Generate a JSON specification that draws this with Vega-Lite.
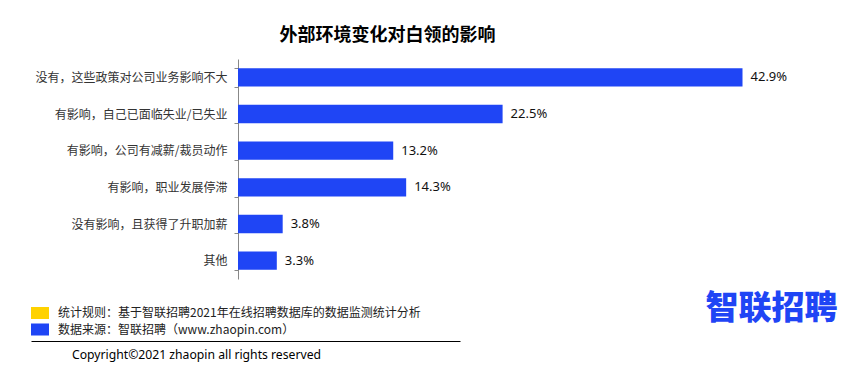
{
  "$schema": "https://vega.github.io/schema/vega-lite/v6.json",
  "width": 588,
  "height": 220,
  "autosize": {"type": "none"},
  "padding": {"left": 238, "top": 59, "right": 28, "bottom": 95},
  "background": "white",
  "config": {"view": {"stroke": null}},
  "title": {
    "text": "外部环境变化对白领的影响",
    "font": "Noto Sans CJK SC",
    "fontSize": 18,
    "fontWeight": "bold",
    "color": "#000000",
    "anchor": "start",
    "frame": "group",
    "dx": 41.5,
    "dy": 26,
    "baseline": "bottom",
    "offset": 16
  },
  "data": {
    "values": [
      {"category": "没有，这些政策对公司业务影响不大", "value": 0.429},
      {"category": "有影响，自己已面临失业/已失业", "value": 0.225},
      {"category": "有影响，公司有减薪/裁员动作", "value": 0.132},
      {"category": "有影响，职业发展停滞", "value": 0.143},
      {"category": "没有影响，且获得了升职加薪", "value": 0.038},
      {"category": "其他", "value": 0.033}
    ]
  },
  "encoding": {
    "y": {
      "field": "category",
      "type": "nominal",
      "sort": null,
      "scale": {"paddingInner": 0.5, "paddingOuter": 0.25},
      "axis": {
        "title": "Copyright©2021 zhaopin all rights reserved",
        "titleAngle": 0,
        "titleX": -166.5,
        "titleY": 295.5,
        "titleAlign": "left",
        "titleBaseline": "middle",
        "titleFont": "Noto Sans",
        "titleFontSize": 12.2,
        "titleFontWeight": "normal",
        "titleColor": "#000000",
        "domainColor": "#888888",
        "tickColor": "#888888",
        "tickSize": 4,
        "tickBand": "extent",
        "labelPadding": 7,
        "labelFont": "Noto Sans CJK SC",
        "labelFontSize": 12,
        "labelColor": "#333333",
        "labelLimit": 400
      }
    },
    "x": {
      "field": "value",
      "type": "quantitative",
      "scale": {"domain": [0, 0.5], "nice": false},
      "axis": {
        "title": "智联招聘",
        "titleX": 674,
        "titleY": -32.5,
        "titleAlign": "left",
        "titleBaseline": "middle",
        "titleAngle": 0,
        "titleFont": "Noto Sans CJK SC",
        "titleFontSize": 33,
        "titleFontWeight": 900,
        "titleColor": "#1F45F5",
        "position": -207,
        "offset": 62,
        "domainColor": "#000000",
        "domainWidth": 1,
        "domainDash": [429, 2000],
        "ticks": false,
        "labels": false,
        "grid": false
      }
    }
  },
  "layer": [
    {
      "mark": {"type": "bar"},
      "encoding": {
        "color": {
          "datum": "数据来源：智联招聘（www.zhaopin.com）",
          "type": "nominal",
          "scale": {
            "domain": ["统计规则：基于智联招聘2021年在线招聘数据库的数据监测统计分析", "数据来源：智联招聘（www.zhaopin.com）"],
            "range": ["#FFD200", "#1F45F5"]
          },
          "legend": {
            "title": null,
            "orient": "none",
            "legendX": -207,
            "legendY": 245,
            "padding": 0,
            "symbolType": "M-1,-0.667L1,-0.667L1,0.667L-1,0.667Z",
            "symbolSize": 324,
            "symbolStrokeWidth": 0,
            "symbolOpacity": 1,
            "labelOffset": 9,
            "labelFont": "Noto Sans CJK SC",
            "labelFontSize": 12,
            "labelColor": "#222222",
            "labelLimit": 600,
            "rowPadding": 0.5
          }
        }
      }
    },
    {
      "mark": {"type": "text", "align": "left", "baseline": "middle", "dx": 8, "font": "Noto Sans", "fontSize": 13, "color": "#111111"},
      "encoding": {
        "text": {"field": "value", "type": "quantitative", "format": ".1%"}
      }
    }
  ]
}
